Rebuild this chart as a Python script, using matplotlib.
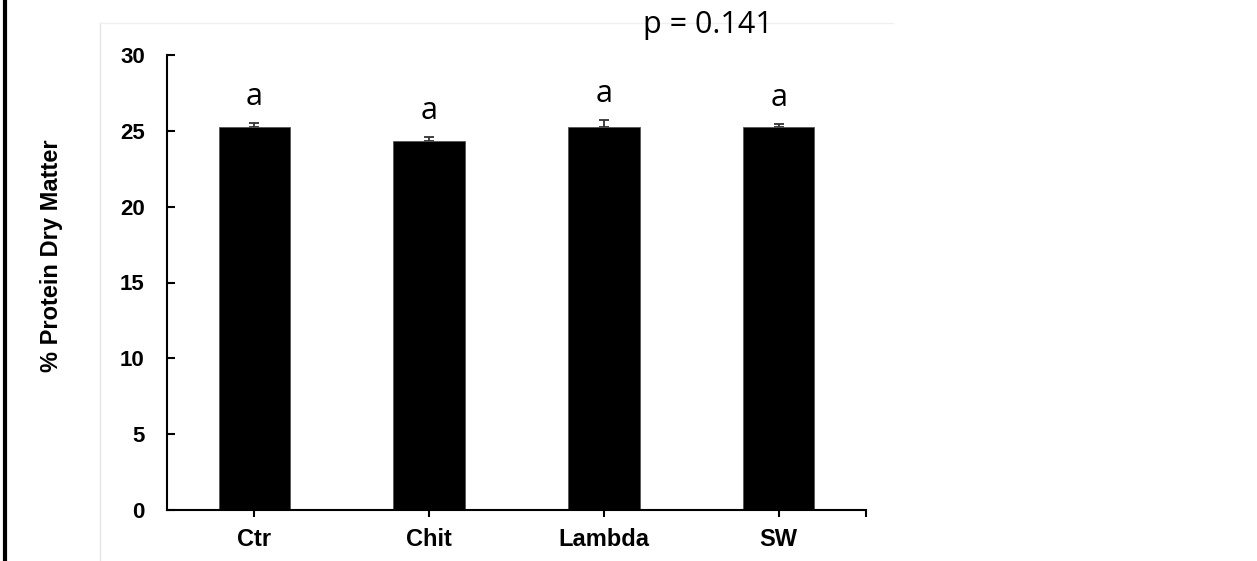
import matplotlib.pyplot as plt
from matplotlib.lines import Line2D

treatments = ['Ctr', 'Chit', 'Lambda', 'SW']
protein = [25.26, 24.34, 25.26, 25.26]
protein_se = [0.25, 0.25, 0.47, 0.2]
letters = ['a', 'a', 'a', 'a']
p_text = 'p = 0.141'

fig = plt.figure(figsize=(12.57, 5.61), dpi=100)

# faint frame of the pasted panel and the black left rule
fig.add_artist(Line2D([100 / 1257, 100 / 1257], [0, 538 / 561], color='#e4e4e4', lw=1))
fig.add_artist(Line2D([100 / 1257, 893 / 1257], [538 / 561, 538 / 561], color='#f0f0f0', lw=1))
fig.add_artist(Line2D([5 / 1257, 5 / 1257], [0, 1], color='black', lw=3))

ax = fig.add_axes([167 / 1257, 51 / 561, 699 / 1257, 455 / 561])
x = range(len(treatments))
ax.bar(x, protein, width=0.41, color='black', edgecolor='#555555', linewidth=0.6, zorder=2)
ax.errorbar(x, protein, yerr=[[0] * 4, protein_se], fmt='none', ecolor='#333333',
            elinewidth=1.3, capsize=3.6, capthick=1.3, zorder=1)

for xi, v, e, s in zip(x, protein, protein_se, letters):
    ax.text(xi, v + e + 1.7, s, ha='center', va='center', fontsize=22, family='Open Sans')

ax.set_xlim(-0.5, 3.5)
ax.set_ylim(0, 30)
ax.set_yticks([0, 5, 10, 15, 20, 25, 30])
ax.set_xticks(list(x))
ax.set_xticklabels(treatments)
ax.set_xticks([3.5], minor=True)
ax.spines['top'].set_visible(False)
ax.spines['right'].set_visible(False)
ax.spines['left'].set_linewidth(1.5)
ax.spines['bottom'].set_linewidth(1.5)
ax.tick_params(axis='y', direction='in', length=6, width=1.5, pad=16, labelsize=16)
ax.tick_params(axis='x', which='both', direction='out', length=5, width=1.5, pad=8, labelsize=17)
for lab in ax.get_xticklabels() + ax.get_yticklabels():
    lab.set_fontweight('bold')
    lab.set_family('Liberation Sans')

fig.text(52 / 1257, 1 - 256 / 561, '% Protein Dry Matter', rotation=90, ha='center', va='center',
         fontsize=17, fontweight='bold', family='Liberation Sans')
fig.text(708 / 1257, 1 - 25 / 561, p_text, ha='center', va='center', fontsize=22, family='Open Sans')

fig.savefig('out.png', dpi=100)
